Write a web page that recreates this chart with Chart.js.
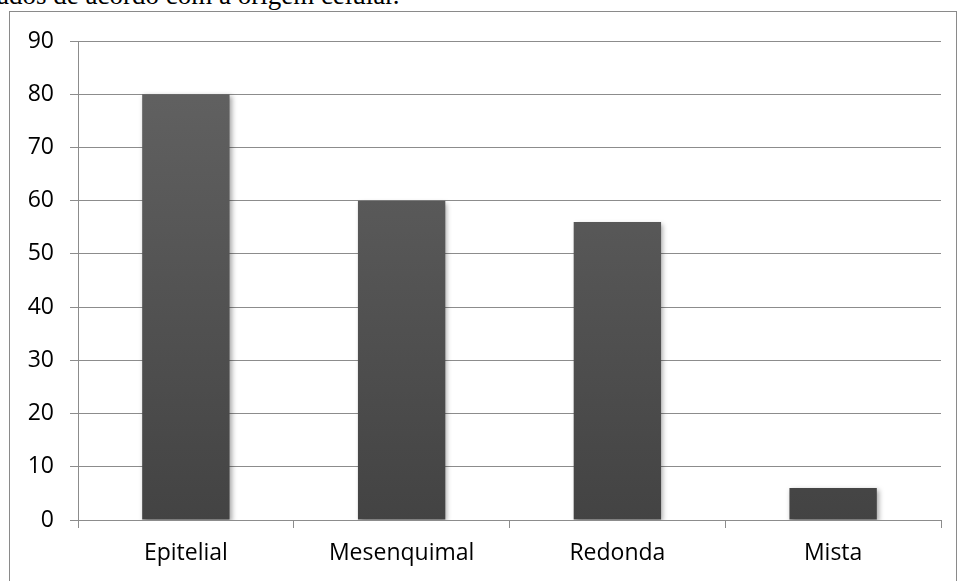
<!DOCTYPE html>
<html>
<head>
<meta charset="utf-8">
<script src="https://cdn.jsdelivr.net/npm/chart.js@4"></script>
<style>
  html, body { margin: 0; padding: 0; background: #fff; width: 958px; height: 581px; overflow: hidden; }
  #caption { position: absolute; left: -3px; top: -18px; font: 27px/27px "Liberation Serif", serif; color: #000; white-space: nowrap; }
  #frame { position: absolute; left: 9px; top: 11px; width: 946px; height: 600px; border: 1px solid #8a8a8a; }
  #wrap { position: absolute; left: 0; top: 0; width: 958px; height: 581px; }
</style>
</head>
<body>
<div id="caption">ados de acordo com a origem celular.</div>
<div id="frame"></div>
<div id="wrap"><canvas id="myChart" width="958" height="581"></canvas></div>
<script>
// dados do gráfico
const categorias = ['Epitelial', 'Mesenquimal', 'Redonda', 'Mista'];
const valores = [80, 60, 56, 6];
const yTicks = [0, 10, 20, 30, 40, 50, 60, 70, 80, 90];

const gridColor = '#8c8c8c';

let ctx = document.querySelector('#myChart');

// sombra das barras
const barShadow = {
  id: 'barShadow',
  beforeDatasetsDraw(chart) {
    const c = chart.ctx;
    c.save();
    c.shadowColor = 'rgba(0,0,0,0.35)';
    c.shadowBlur = 5;
    c.shadowOffsetX = 2;
    c.shadowOffsetY = 2;
  },
  afterDatasetsDraw(chart) {
    chart.ctx.restore();
  }
};

const barGradient = (context) => {
  const chart = context.chart;
  const area = chart.chartArea;
  if (!area) return '#555';
  const g = chart.ctx.createLinearGradient(0, area.top, 0, area.bottom);
  g.addColorStop(0, '#646464');
  g.addColorStop(1, '#434343');
  return g;
};

let charter = new Chart(ctx, {
  type: 'bar',
  data: {
    labels: categorias,
    datasets: [{
      data: valores,
      backgroundColor: barGradient,
      borderWidth: 0,
      categoryPercentage: 0.405,
      barPercentage: 1
    }]
  },
  plugins: [barShadow],
  options: {
    responsive: false,
    animation: false,
    devicePixelRatio: 1,
    layout: { padding: { left: 0, top: 41, right: 17, bottom: 0 } },
    plugins: {
      legend: { display: false },
      tooltip: { enabled: false }
    },
    scales: {
      x: {
        offset: true,
        grid: {
          offset: true,
          drawOnChartArea: false,
          drawTicks: true,
          tickLength: 8,
          color: gridColor
        },
        border: { color: gridColor },
        ticks: {
          color: '#000',
          padding: 12,
          maxRotation: 0,
          font: { family: 'Open Sans', size: 23 }
        },
        afterFit(scale) { scale.height = 61; }
      },
      y: {
        min: 0,
        max: 90,
        afterBuildTicks(scale) { scale.ticks = yTicks.map(v => ({ value: v })); },
        grid: {
          color: gridColor,
          tickLength: 8
        },
        border: { color: gridColor },
        ticks: {
          color: '#000',
          padding: 16,
          font: { family: 'Open Sans', size: 23 }
        },
        afterFit(scale) { scale.width = 78; }
      }
    }
  }
});
</script>
</body>
</html>
